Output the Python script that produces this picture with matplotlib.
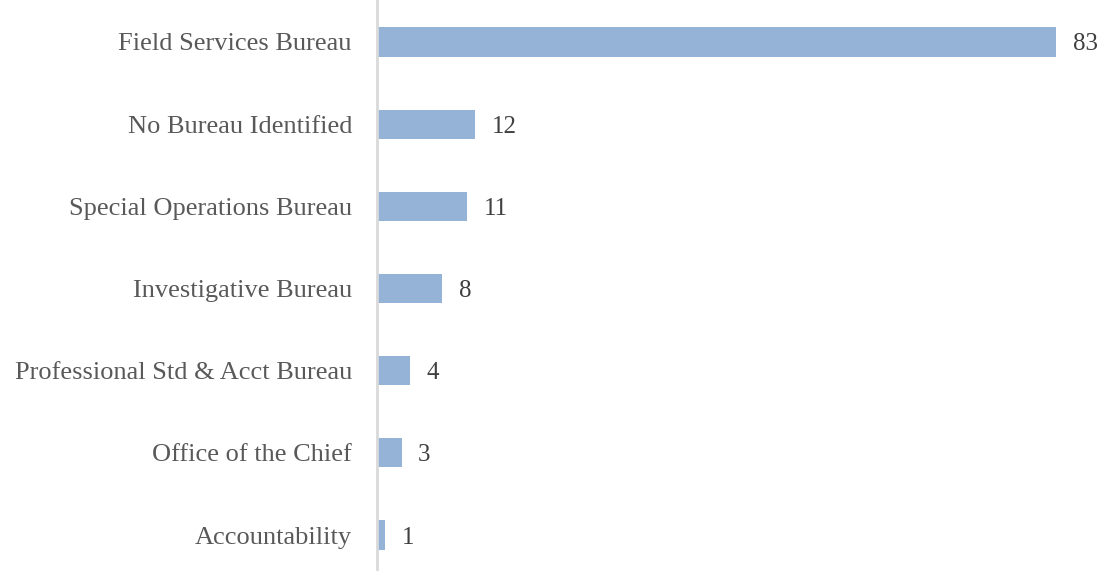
import matplotlib

matplotlib.use("Agg")
import matplotlib.pyplot as plt

# Data (bottom to top in drawing order)
bureaus = [
    "Accountability",
    "Office of the Chief",
    "Professional Std & Acct Bureau",
    "Investigative Bureau",
    "Special Operations Bureau",
    "No Bureau Identified",
    "Field Services Bureau",
]
counts = [1, 3, 4, 8, 11, 12, 83]

BAR_COLOR = "#95B3D7"
TEXT_COLOR = "#595959"

plt.rcParams["font.family"] = ["Liberation Serif", "DejaVu Serif"]

fig = plt.figure(figsize=(11.06, 5.71), dpi=100)
ax = fig.add_axes([377 / 1106, 0, 1 - 377 / 1106, 1])

y = range(len(bureaus))
bars = ax.barh(y, counts, height=0.355, color=BAR_COLOR)
labels = ax.bar_label(bars, padding=12, fontsize=18, color="#404040")
for t in labels:
    t.set_va("center_baseline")

ax.set_yticks(list(y))
ax.set_yticklabels(bureaus, fontsize=19, color=TEXT_COLOR)
ax.tick_params(axis="y", length=0, pad=18)
ax.set_xticks([])
ax.set_xlim(0, 89.1)
ax.set_ylim(-0.438, 6.511)

for side in ["top", "right", "bottom"]:
    ax.spines[side].set_visible(False)
ax.spines["left"].set_color("#D9D9D9")
ax.spines["left"].set_linewidth(2)

fig.savefig("out.png", dpi=100)
